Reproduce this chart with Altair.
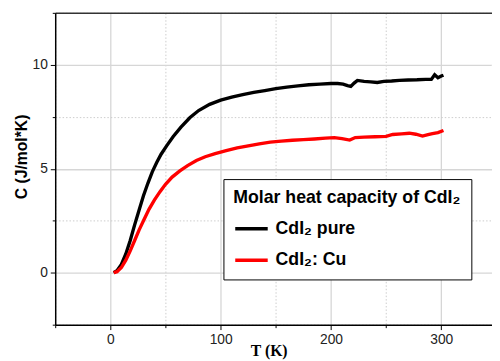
import altair as alt
import pandas as pd

# ---- data ----
T_pure = [3, 6, 10, 14, 18, 22, 26, 30, 34, 38, 42, 46, 51, 57, 64, 72, 80, 90, 100,
          110, 120, 130, 140, 150, 160, 170, 180, 190, 200, 206, 211, 215, 218, 221,
          224, 230, 236, 242, 248, 255, 262, 270, 278, 286, 291, 294, 297, 300, 302]
C_pure = [0.0, 0.1, 0.4, 0.9, 1.55, 2.3, 3.0, 3.7, 4.3, 4.85, 5.3, 5.7, 6.1, 6.55, 7.0,
          7.45, 7.8, 8.1, 8.3, 8.45, 8.57, 8.67, 8.76, 8.85, 8.93, 8.99, 9.04, 9.07, 9.1,
          9.1, 9.07, 9.0, 8.96, 9.12, 9.25, 9.2, 9.18, 9.15, 9.2, 9.22, 9.25, 9.27, 9.28,
          9.3, 9.3, 9.52, 9.38, 9.46, 9.5]

T_cu = [3, 6, 10, 14, 18, 22, 26, 30, 35, 40, 45, 50, 56, 63, 70, 78, 86, 95, 105,
        115, 125, 135, 145, 155, 165, 175, 185, 195, 203, 210, 217, 222, 230, 240, 250,
        256, 264, 271, 277, 283, 288, 292, 297, 302]
C_cu = [0.0, 0.05, 0.25, 0.6, 1.05, 1.55, 2.05, 2.5, 3.05, 3.5, 3.9, 4.25, 4.6, 4.9,
        5.15, 5.4, 5.58, 5.73, 5.87, 6.0, 6.1, 6.2, 6.28, 6.33, 6.37, 6.4, 6.43, 6.47,
        6.5, 6.45, 6.38, 6.5, 6.52, 6.54, 6.56, 6.65, 6.68, 6.71, 6.66, 6.57, 6.64,
        6.69, 6.74, 6.84]

series = ["CdI\u2082 pure", "CdI\u2082: Cu"]
colors = ["#000000", "#ff0000"]
legend_title = "Molar heat capacity of CdI\u2082"
x_title = "T (K)"
y_title = "C (J/mol*K)"
x_ticks = [-50, 0, 50, 100, 150, 200, 250, 300]
y_ticks = [-2.5, 0, 2.5, 5, 7.5, 10, 12.5]
x_domain = [-50, 346]
y_domain = [-2.5, 12.5]

rows = []
for name, ts, cs in [(series[0], T_pure, C_pure), (series[1], T_cu, C_cu)]:
    for i, (t, c) in enumerate(zip(ts, cs)):
        rows.append({"series": name, "T": t, "C": c, "i": i})
df = pd.DataFrame(rows)

xscale = alt.Scale(domain=x_domain, nice=False, zero=False)
yscale = alt.Scale(domain=y_domain, nice=False, zero=False)

minor_x = "datum.value % 100 != 0"
minor_y = "datum.value % 5 != 0"

common_axis = dict(
    grid=True,
    domainColor="#000000",
    domainWidth=1.5,
    tickColor="#000000",
    tickWidth=1,
    labelFont="Liberation Sans",
    labelFontSize=14,
    labelColor="#222222",
)

x_axis = alt.Axis(
    orient="bottom",
    values=x_ticks,
    title=x_title,
    labelExpr="datum.value % 100 == 0 ? datum.label : ''",
    gridColor={"condition": {"test": minor_x, "value": "#cccccc"}, "value": "#d6d6d6"},
    gridWidth={"condition": {"test": minor_x, "value": 1}, "value": 1.3},
    gridDash={"condition": {"test": minor_x, "value": [1.5, 2]}, "value": [1, 0]},
    tickSize={"condition": {"test": minor_x, "value": 3}, "value": 5},
    labelPadding=3,
    titleFont="Liberation Serif",
    titleFontSize=16,
    titleFontWeight="bold",
    titleColor="#000000",
    titleX=217,
    titleY=31,
    titleAlign="center",
    titleBaseline="alphabetic",
    **common_axis,
)

y_axis = alt.Axis(
    orient="left",
    values=y_ticks,
    title=y_title,
    labelExpr="datum.value % 5 == 0 ? datum.label : ''",
    gridColor={"condition": {"test": minor_y, "value": "#cccccc"}, "value": "#d6d6d6"},
    gridWidth={"condition": {"test": minor_y, "value": 1}, "value": 1.3},
    gridDash={"condition": {"test": minor_y, "value": [1.5, 2]}, "value": [1, 0]},
    tickSize={"condition": {"test": minor_y, "value": 3}, "value": 5},
    labelPadding=3,
    titleFont="Liberation Sans",
    titleFontSize=16,
    titleFontWeight="bold",
    titleColor="#000000",
    titleAngle=270,
    titleX=-29,
    titleY=146,
    titleAlign="center",
    titleBaseline="alphabetic",
    **common_axis,
)

lines = alt.Chart(df).mark_line(strokeWidth=3.4).encode(
    x=alt.X("T:Q", scale=xscale, axis=x_axis),
    y=alt.Y("C:Q", scale=yscale, axis=y_axis),
    color=alt.Color(
        "series:N",
        scale=alt.Scale(domain=series, range=colors),
        legend=alt.Legend(
            orient="none",
            legendX=171,
            legendY=169,
            title=legend_title,
            titleFont="Liberation Sans",
            titleFontSize=18,
            titleFontWeight="bold",
            titleColor="#000000",
            titleLimit=400,
            titlePadding=4,
            labelFont="Liberation Sans",
            labelFontSize=18,
            labelFontWeight="bold",
            labelColor="#000000",
            labelLimit=300,
            labelOffset=6,
            symbolType="stroke",
            symbolStrokeWidth=3.5,
            symbolSize=1089,
            rowPadding=4,
            strokeColor="#000000",
            fillColor="#ffffff",
            padding=10,
        ),
    ),
    order="i:Q",
)

top = alt.Chart(df).mark_point(opacity=0).encode(
    x=alt.X("T:Q", scale=xscale,
            axis=alt.Axis(orient="top", labels=False, ticks=False, grid=False,
                          title=None, domainColor="#333333", domainWidth=1.5)),
)

chart = (
    alt.layer(lines, top)
    .resolve_axis(x="independent")
    .properties(
        width=444,
        height=317,
        padding={"left": 48, "top": 2, "right": 0, "bottom": 34},
        autosize=alt.AutoSizeParams(type="none"),
        background="#ffffff",
    )
    .configure_view(stroke=None)
)

chart.save("out.html", embed_options={"renderer": "svg", "actions": False})
